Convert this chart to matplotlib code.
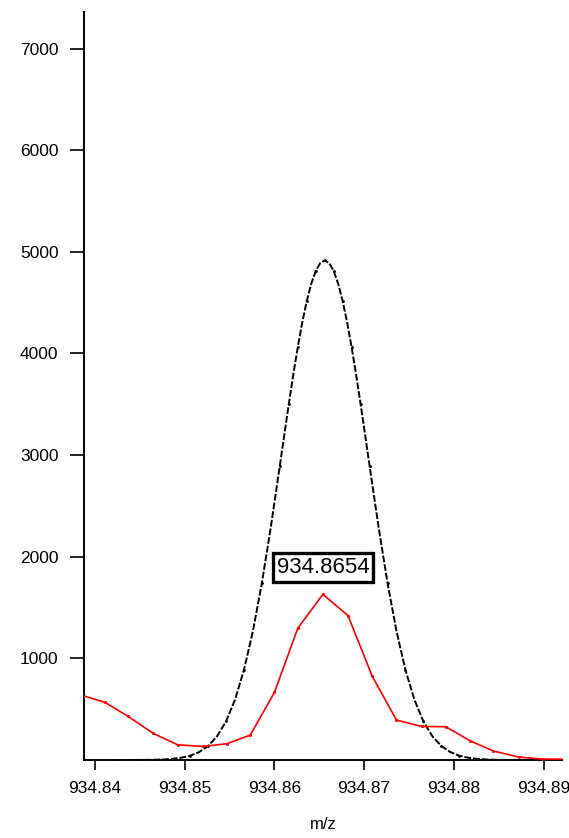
import numpy as np
import matplotlib.pyplot as plt

plt.rcParams['font.family'] = ['Liberation Sans', 'DejaVu Sans']

# centroid / measured spectrum (red)
mz_meas = [934.8384, 934.8411, 934.8437, 934.8465, 934.8492, 934.8520, 934.8547,
           934.8573, 934.8600, 934.8626, 934.8654, 934.8682, 934.8709, 934.8736,
           934.8764, 934.8791, 934.8818, 934.8844, 934.8872, 934.8899, 934.8926]
int_meas = [640, 567, 429, 261, 150, 133, 160, 245, 665, 1296, 1630, 1420,
            823, 393, 330, 327, 189, 88, 29, 9, 8]

# fitted profile (black)
mz_fit = [934.8426, 934.8436, 934.8446, 934.8456, 934.8466, 934.8476, 934.8486,
          934.8496, 934.8506, 934.8516, 934.8526, 934.8536, 934.8546, 934.8556,
          934.8566, 934.8576, 934.8586, 934.8596, 934.8606, 934.8611, 934.8616,
          934.8621, 934.8626, 934.8631, 934.8636, 934.8641, 934.8646, 934.8651,
          934.8656, 934.8661, 934.8666, 934.8671, 934.8676, 934.8681, 934.8686,
          934.8691, 934.8696, 934.8701, 934.8706, 934.8716, 934.8726, 934.8736,
          934.8746, 934.8756, 934.8766, 934.8776, 934.8786, 934.8796, 934.8806,
          934.8816, 934.8826, 934.8836, 934.8846, 934.8856, 934.8866, 934.8876]
int_fit = [0, 0, 0, 1, 2, 5, 11, 22, 42, 78, 137, 233, 379, 592, 885, 1268,
           1742, 2294, 2895, 3201, 3503, 3793, 4062, 4306, 4516, 4686, 4812,
           4889, 4915, 4889, 4812, 4686, 4516, 4306, 4062, 3793, 3503, 3201,
           2895, 2294, 1742, 1268, 885, 592, 379, 233, 137, 78, 42, 22,
           11, 5, 2, 1, 0, 0]

peak_label = "934.8654"
peak_pos = (934.8654, 1894)

fig = plt.figure(figsize=(5.69, 8.38), dpi=100)
ax = fig.add_axes([0.148, 0.0931, 0.839, 0.8926])

ax.plot(mz_fit, int_fit, color='black', lw=1.4, ls=(0, (3.5, 1.0)), zorder=2)
ax.plot(mz_fit[::2], int_fit[::2], ls='none', color='black', marker='.', ms=2, zorder=2)
ax.plot(mz_meas, int_meas, color='red', lw=1.2, marker='.', ms=2.5, zorder=3)

ax.text(peak_pos[0], peak_pos[1], peak_label, fontsize=16, ha='center', va='center',
        bbox=dict(boxstyle='square,pad=0.18', fc='white', ec='black', lw=2.4), zorder=5)

ax.set_xlim(934.8388, 934.8920)
ax.set_ylim(0, 7360)
ax.set_xticks([934.84, 934.85, 934.86, 934.87, 934.88, 934.89])
ax.set_xticklabels(["934.84", "934.85", "934.86", "934.87", "934.88", "934.89"])
ax.set_yticks([1000, 2000, 3000, 4000, 5000, 6000, 7000])

for s in ['top', 'right']:
    ax.spines[s].set_visible(False)
for s in ['left', 'bottom']:
    ax.spines[s].set_linewidth(1.4)

ax.tick_params(axis='y', length=10, width=1.2, pad=8.5, labelsize=12.5)
ax.tick_params(axis='x', length=7, width=1.2, pad=8, labelsize=12.5)
ax.set_xlabel("m/z", fontsize=12, labelpad=15)

fig.savefig("out.png", dpi=100)
